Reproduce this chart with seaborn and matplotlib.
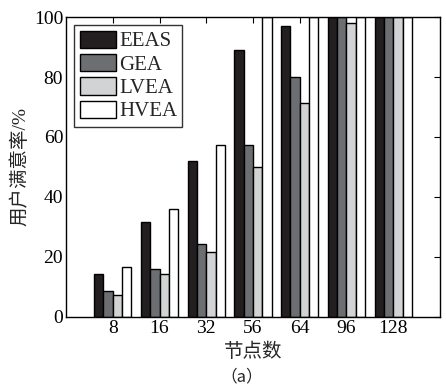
import matplotlib
matplotlib.use("Agg")
import matplotlib.pyplot as plt
import seaborn as sns
import pandas as pd

categories = ["8", "16", "32", "56", "64", "96", "128"]
series_names = ["EEAS", "GEA", "LVEA", "HVEA"]
eeas = [14.2, 31.7, 51.9, 89.0, 97.0, 100, 100]
gea = [8.8, 16.1, 24.3, 57.4, 80.1, 100, 100]
lvea = [7.4, 14.3, 21.7, 50.1, 71.4, 98.1, 100]
hvea = [16.8, 35.9, 57.2, 100, 100, 100, 100]
colors = ["#231f20", "#6d6e71", "#d1d3d4", "#ffffff"]
yticks = [0, 20, 40, 60, 80, 100]

rows = []
for name, vals in zip(series_names, [eeas, gea, lvea, hvea]):
    for c, v in zip(categories, vals):
        rows.append({"节点数": c, "值": v, "方法": name})
df = pd.DataFrame(rows)

sns.set_style("white")
plt.rcParams["font.family"] = ["Liberation Serif", "Noto Sans CJK SC"]

fig = plt.figure(figsize=(4.46, 3.87), dpi=100)
ax = fig.add_axes([0.148, 0.181, 0.8385, 0.775])
sns.barplot(data=df, x="节点数", y="值", hue="方法", order=categories,
            hue_order=series_names, palette=colors, edgecolor="black",
            linewidth=1.0, width=0.8, ax=ax, saturation=1)
ax.set_xlim(-1, 7)
ax.set_ylim(0, 100)
ax.set_yticks(yticks)
ax.set_xlabel("节点数", fontsize=14, labelpad=4)
ax.set_ylabel("用户满意率/%", fontsize=14, labelpad=3)
ax.tick_params(direction="in", top=True, right=True, length=4, labelsize=14,
               width=0.8, colors="black", pad=2)
for s in ax.spines.values():
    s.set_visible(True)
    s.set_color("black")
    s.set_linewidth(1.0)
leg = ax.legend(loc="upper left", fontsize=15, frameon=True, fancybox=False,
                edgecolor="black", handlelength=1.75, handleheight=0.9,
                borderpad=0.25, labelspacing=0.12, handletextpad=0.15,
                borderaxespad=0.4)
leg.get_frame().set_linewidth(1.0)
fig.text(0.543, 0.004, "（a）", fontsize=12, ha="center", va="bottom",
         family=["Noto Sans CJK SC", "Liberation Serif"])
fig.savefig("out.png", dpi=100)
